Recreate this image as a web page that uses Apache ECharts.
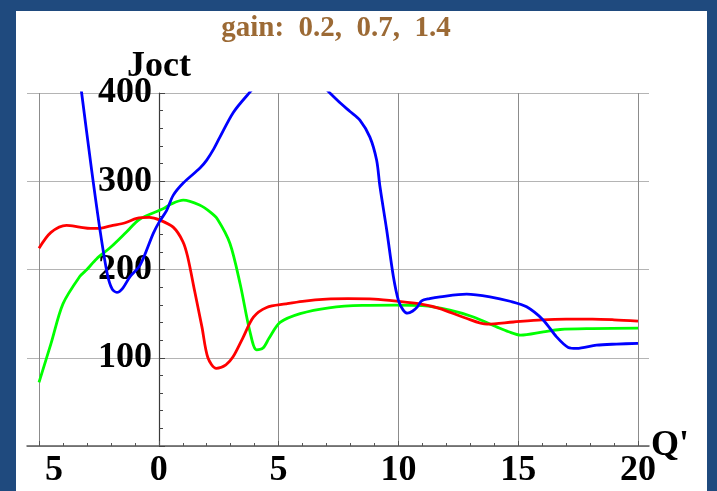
<!DOCTYPE html>
<html>
<head>
<meta charset="utf-8">
<script src="https://cdn.jsdelivr.net/npm/echarts@6/dist/echarts.min.js"></script>
<style>
  html, body { margin: 0; padding: 0; background: #1f4a7e; }
  #chart { width: 717px; height: 491px; }
</style>
</head>
<body>
<div id="chart"></div>
<script>
// Joct versus Q' for three gain values (0.2, 0.7, 1.4)
const titleText = 'gain:  0.2,  0.7,  1.4';

// gain 0.2 (blue)
const blueQ = [-3.36, -3.22, -2.8, -2.45, -2.15, -1.95, -1.75, -1.5, -1.2, -0.78, -0.23, 0.02, 0.33, 0.6, 1.02,
  1.72, 2.0, 2.3, 2.55, 3.11, 3.74, 4.4, 5.4, 6.4, 7.14, 7.6, 7.98, 8.4, 8.81, 9.09, 9.23, 9.51, 9.79,
  10.0, 10.2, 10.38, 10.6, 10.8, 10.97, 11.3, 11.74, 12.85, 13.82, 14.66, 15.35, 16.05, 16.6, 17.09,
  17.44, 18.27, 19.1, 20.0];
const blueJ = [430, 400, 312, 244, 195, 178, 174, 179, 192, 205, 241, 254, 267, 284, 298,
  315, 324, 337, 350, 378, 399, 418, 428, 420, 400, 388, 379, 369, 350, 324, 294, 245, 192,
  165, 154, 150.5, 153, 158, 164.5, 167, 169, 172, 169, 164, 157.7, 142.6, 123.7, 111.7,
  110.6, 114.3, 115.5, 116.3];

// gain 0.7 (red)
const redQ = [-5, -4.5, -3.85, -3.3, -2.85, -2.4, -2.0, -1.4, -0.92, -0.4, 0.05, 0.6, 1.0, 1.2, 1.5,
  1.8, 2.05, 2.4, 2.8, 3.1, 3.5, 3.95, 4.5, 5.3, 6.0, 7.0, 7.9, 9.0, 10.0, 10.9, 11.7, 12.8, 13.7,
  14.8, 16.0, 17.0, 18.1, 19.0, 20.0];
const redJ = [224, 242, 250, 248, 246.5, 247, 249.5, 253, 258, 259, 256, 248, 232, 215, 175,
  135, 100, 88, 92, 101, 122, 146, 157, 161, 164, 166.5, 167, 166.5, 164, 161, 156, 145, 138,
  140.5, 143, 143.8, 143.8, 143, 141.5];

// gain 1.4 (green)
const greenQ = [-5, -4.5, -4.0, -3.3, -3.0, -2.6, -2.0, -1.35, -0.8, 0.2, 0.5, 1.02, 1.7, 2.15, 2.45,
  2.97, 3.4, 3.8, 4.08, 4.35, 4.6, 5.06, 5.9, 7.1, 8.5, 9.9, 11.0, 12.15, 13.1, 14.1, 14.6, 15.1,
  16.05, 16.75, 18.1, 20.0];
const greenJ = [72, 116, 161, 192, 200, 212, 225.5, 242.5, 257, 269, 274, 278.5, 273, 265, 257,
  229.5, 183, 130, 109, 111, 122, 140, 150, 156.6, 159.3, 159.6, 159, 154, 146.5, 135, 129.5, 125.7,
  129.4, 132, 133, 133.6];

const toPairs = (qs, js) => qs.map((q, i) => [q, js[i]]);

const serif = "'Liberation Serif', 'Times New Roman', serif";
const frameColor = '#1f4a7e';
const labelFont = { fontFamily: serif, fontWeight: 'bold', fontSize: 36, color: '#000' };

const chart = echarts.init(document.getElementById('chart'), null, { renderer: 'canvas' });

chart.setOption({
  animation: false,
  backgroundColor: '#ffffff',
  grid: [
    { left: 39, right: 79, top: 93, bottom: 45, containLabel: false, outerBoundsMode: 'none' },
    { left: 27, right: 68, top: 93, bottom: 45, containLabel: false, outerBoundsMode: 'none' }
  ],
  xAxis: [
    {
      gridIndex: 0, type: 'value', min: -5, max: 20, interval: 5,
      axisLine: { show: false },
      axisTick: { show: true, inside: true, length: 5, lineStyle: { color: '#555', width: 1 } },
      minorTick: { show: true, splitNumber: 5, length: 3, lineStyle: { color: '#555', width: 1 } },
      splitLine: { show: true, lineStyle: { color: '#8c8c8c', width: 1 } },
      axisLabel: Object.assign({
        margin: 7,
        formatter: v => (v < 0 ? '{neg|-}{num|' + Math.abs(v) + '}' : String(v)),
        rich: {
          neg: Object.assign({ width: 40, align: 'left' }, labelFont),
          num: Object.assign({ width: 28, align: 'left' }, labelFont)
        }
      }, labelFont),
      name: "Q'", nameLocation: 'end', nameGap: 13, nameMoveOverlap: false,
      nameTextStyle: Object.assign({ align: 'left', verticalAlign: 'middle', padding: [0, 0, 6, 0] }, labelFont)
    },
    {
      gridIndex: 1, type: 'value', min: 0, max: 1,
      axisLine: { show: true, onZero: false, lineStyle: { color: '#5a5a5a', width: 1.5 } },
      axisTick: { show: false }, axisLabel: { show: false }, splitLine: { show: false }
    }
  ],
  yAxis: [
    {
      // vertical axis sits at Q' = 0, i.e. 120px in from the left edge of the plot
      gridIndex: 0, type: 'value', min: 0, max: 400, interval: 100,
      position: 'left', offset: -120,
      axisLine: { show: true, onZero: false, lineStyle: { color: '#3a3a3a', width: 1.2 } },
      axisTick: { show: true, inside: true, length: 6, lineStyle: { color: '#444', width: 1 } },
      minorTick: { show: true, splitNumber: 5, length: 4, lineStyle: { color: '#444', width: 1 } },
      splitLine: { show: false },
      axisLabel: Object.assign({ margin: 7, showMinLabel: false }, labelFont),
      name: 'Joct', nameLocation: 'end', nameGap: 8, nameMoveOverlap: false,
      nameTextStyle: Object.assign({ align: 'center', verticalAlign: 'bottom' }, labelFont)
    },
    {
      gridIndex: 1, type: 'value', min: 0, max: 400, interval: 100,
      axisLine: { show: false }, axisTick: { show: false }, axisLabel: { show: false },
      splitLine: { show: true, lineStyle: { color: '#b4b4b4', width: 1 } }
    }
  ],
  series: [
    {
      name: 'gain 1.4', type: 'line', xAxisIndex: 0, yAxisIndex: 0,
      data: toPairs(greenQ, greenJ), smooth: 0.3, showSymbol: false, clip: true,
      lineStyle: { color: '#00ff00', width: 2.8 }
    },
    {
      name: 'gain 0.7', type: 'line', xAxisIndex: 0, yAxisIndex: 0,
      data: toPairs(redQ, redJ), smooth: 0.3, showSymbol: false, clip: true,
      lineStyle: { color: '#ff0000', width: 2.8 }
    },
    {
      name: 'gain 0.2', type: 'line', xAxisIndex: 0, yAxisIndex: 0,
      data: toPairs(blueQ, blueJ), smooth: 0.3, showSymbol: false, clip: true,
      lineStyle: { color: '#0000ff', width: 2.8 }
    }
  ],
  graphic: [
    {
      type: 'text', x: 336, y: 29, z: 50,
      style: {
        text: titleText, fill: '#9c6a35', font: 'bold 29px ' + serif,
        textAlign: 'center', textVerticalAlign: 'middle'
      }
    },
    // dark frame drawn over the page edges
    { type: 'rect', z: 100, shape: { x: 0, y: 0, width: 16, height: 491 }, style: { fill: frameColor } },
    { type: 'rect', z: 100, shape: { x: 0, y: 0, width: 717, height: 11 }, style: { fill: frameColor } },
    { type: 'rect', z: 100, shape: { x: 707, y: 0, width: 10, height: 491 }, style: { fill: frameColor } }
  ]
});
</script>
</body>
</html>
